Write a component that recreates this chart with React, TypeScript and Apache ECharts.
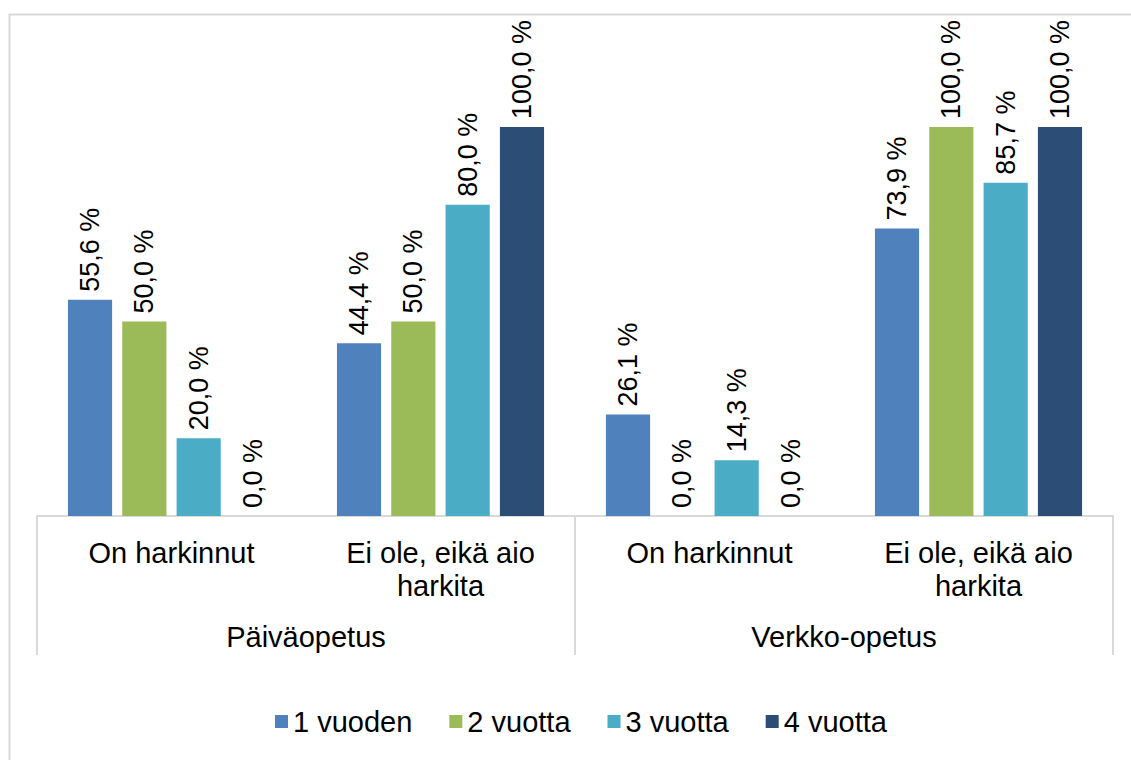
import React, { useEffect, useRef } from "react";
import * as echarts from "echarts";

const categories = ["On harkinnut", "Ei ole, eikä aio\nharkita", "On harkinnut", "Ei ole, eikä aio\nharkita"];
const groups = ["Päiväopetus", "Verkko-opetus"];
const seriesNames = ["1 vuoden", "2 vuotta", "3 vuotta", "4 vuotta"];
const vuoden1 = [55.6, 44.4, 26.1, 73.9];
const vuotta2 = [50.0, 50.0, 0.0, 100.0];
const vuotta3 = [20.0, 80.0, 14.3, 85.7];
const vuotta4 = [0.0, 100.0, 0.0, 100.0];
const colors = ["#4F81BD", "#9BBB59", "#4BACC6", "#2C4D75"];

const FONT = "'Liberation Sans', Arial, Helvetica, sans-serif";

export default function App() {
  const ref = useRef<HTMLDivElement>(null);
  useEffect(() => {
    if (!ref.current) return;
    const chart = echarts.init(ref.current, undefined, { renderer: "svg" });
    const allData = [vuoden1, vuotta2, vuotta3, vuotta4];
    chart.setOption({
      animation: false,
      backgroundColor: "#ffffff",
      textStyle: { fontFamily: FONT },
      color: colors,
      grid: { left: 37, right: 18, top: 127, bottom: 244, containLabel: false },
      legend: {
        bottom: 19,
        left: 270,
        itemWidth: 13,
        itemHeight: 13,
        itemGap: 37,
        icon: "rect",
        textStyle: { fontSize: 29, color: "#000", fontFamily: FONT },
        data: seriesNames,
      },
      xAxis: [
        {
          type: "category",
          position: "bottom",
          data: categories,
          axisLine: { show: true, lineStyle: { color: "#d9d9d9", width: 2 } },
          axisTick: { show: false },
          axisLabel: {
            interval: 0,
            fontSize: 29,
            lineHeight: 33,
            color: "#000",
            margin: 20,
            fontFamily: FONT,
          },
        },
        {
          type: "category",
          position: "bottom",
          data: groups,
          axisLine: { show: false },
          axisTick: { show: true, length: 139, lineStyle: { color: "#d9d9d9", width: 2 } },
          axisLabel: {
            interval: 0,
            fontSize: 29,
            color: "#000",
            margin: 106,
            fontFamily: FONT,
          },
        },
      ],
      yAxis: {
        type: "value",
        min: 0,
        max: 100,
        show: false,
        splitLine: { show: false },
      },
      series: seriesNames.map((name, i) => ({
        name,
        type: "bar",
        xAxisIndex: 0,
        data: allData[i],
        barGap: "23%",
        barCategoryGap: "23%",
        itemStyle: { color: colors[i] },
        label: {
          show: true,
          position: "top",
          rotate: 90,
          align: "left",
          verticalAlign: "middle",
          distance: 8,
          fontSize: 27,
          color: "#000",
          fontFamily: FONT,
          formatter: (p: any) => p.value.toFixed(1).replace(".", ",") + " %",
        },
      })),
      graphic: [
        {
          type: "rect",
          left: 7,
          top: 12,
          shape: { x: 0, y: 0, width: 1140, height: 760 },
          style: { fill: "none", stroke: "#d9d9d9", lineWidth: 2 },
          silent: true,
        },
      ],
    });
    return () => chart.dispose();
  }, []);
  return (
    <div
      ref={ref}
      style={{ position: "absolute", left: 0, top: 0, width: 1131, height: 760 }}
    />
  );
}
